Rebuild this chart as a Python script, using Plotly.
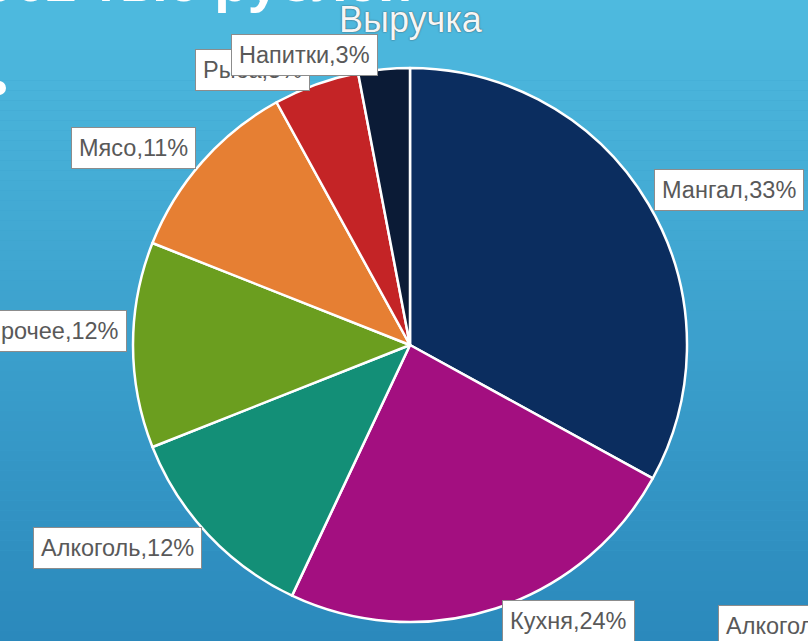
import math
import plotly.graph_objects as go

# ---- data ----
categories = ["Мангал", "Кухня", "Алкоголь", "Прочее", "Мясо", "Рыба", "Напитки"]
shares = [33, 24, 12, 12, 11, 5, 3]
colors = ["#0b2d5f", "#a30f80", "#138f77", "#6b9e1f", "#e67f33", "#c42426", "#0b1b36"]
title_text = "Выручка"
header_text = "13062 тыс рублей"
side_label = "Алкоголь"

W, H = 808, 641
CX, CY, R = 410, 345, 277

def px(x):
    return x / W

def py(y):
    return 1 - y / H

fig = go.Figure()
fig.add_trace(go.Pie(
    labels=categories, values=shares, sort=False, direction="clockwise",
    rotation=0, textinfo="none", hoverinfo="label+percent",
    marker=dict(colors=colors, line=dict(color="white", width=2.5)),
    domain=dict(x=[px(CX - R), px(CX + R)], y=[py(CY + R), py(CY - R)]),
    showlegend=False,
))

# gradient background bands
top = (78, 186, 223)
bot = (43, 137, 188)
shapes = []
N = 64
for i in range(N):
    t = i / (N - 1)
    c = tuple(round(top[k] + (bot[k] - top[k]) * t) for k in range(3))
    shapes.append(dict(type="rect", xref="paper", yref="paper", layer="below",
                       x0=0, x1=1, y0=1 - (i + 1) / N, y1=1 - i / N,
                       line=dict(width=0), fillcolor="rgb(%d,%d,%d)" % c))
shapes.append(dict(type="circle", xref="paper", yref="paper", layer="above",
                   x0=px(-8), x1=px(6), y0=py(95), y1=py(81),
                   line=dict(width=0), fillcolor="white"))

label_font = dict(family="Liberation Sans, Arial", size=23.5, color="#595959")
annotations = []
total = sum(shares)
cum = 0
for name, v in zip(categories, shares):
    mid = (cum + v / 2) / total * 2 * math.pi
    cum += v
    ex = CX + R * math.sin(mid)
    ey = CY - R * math.cos(mid)
    right = math.sin(mid) > 0
    dy = -14 if math.cos(mid) >= -0.1 else 13
    annotations.append(dict(
        text="%s,%d%%" % (name, v), xref="paper", yref="paper",
        x=px(ex + (6 if right else -6)), y=py(ey + dy),
        xanchor="left" if right else "right", yanchor="middle",
        showarrow=False, bgcolor="white", bordercolor="#8c8c8c", borderwidth=1,
        borderpad=7, font=label_font,
    ))

annotations.append(dict(
    text="%s,12%%" % side_label, xref="paper", yref="paper", x=px(718), y=py(626),
    xanchor="left", yanchor="middle", showarrow=False, bgcolor="white",
    bordercolor="#8c8c8c", borderwidth=1, borderpad=7, font=label_font))

annotations.append(dict(
    text=title_text, xref="paper", yref="paper", x=px(411), y=py(19),
    xanchor="center", yanchor="middle", showarrow=False,
    font=dict(family="Liberation Sans, Arial", size=36, color="#f6f6f6",
              shadow="0px 0px 1.5px #333")))

annotations.append(dict(
    text="<b>%s</b>" % header_text, xref="paper", yref="paper", x=px(414), y=py(-19),
    xanchor="right", yanchor="middle", showarrow=False,
    font=dict(family="Liberation Sans, Arial", size=56, color="white")))

fig.update_layout(
    width=W, height=H, margin=dict(l=0, r=0, t=0, b=0),
    paper_bgcolor="rgb(60,160,205)", plot_bgcolor="rgba(0,0,0,0)",
    shapes=shapes, annotations=annotations,
)
fig.write_html("out.html", config={"displayModeBar": False},
               post_script="document.body.style.margin='0';document.body.style.overflow='hidden';")
